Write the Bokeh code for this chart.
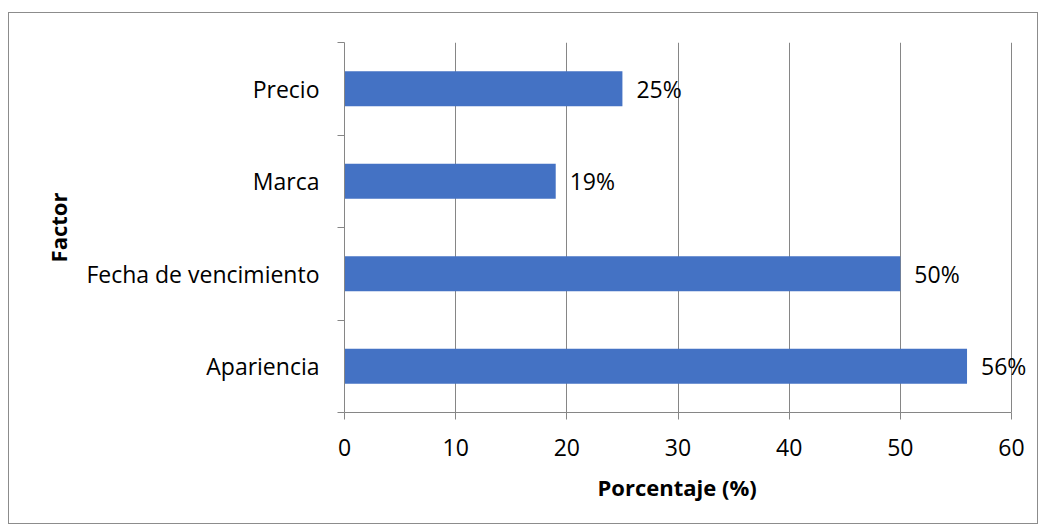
from bokeh.plotting import figure
from bokeh.models import Range1d, FixedTicker, ColumnDataSource, Title
from bokeh.core.properties import value
from bokeh.embed import file_html
from bokeh.resources import INLINE

factors = ["Apariencia", "Fecha de vencimiento", "Marca", "Precio"]
percent = [56, 50, 19, 25]
x_ticks = [0, 10, 20, 30, 40, 50, 60]
x_title = "Porcentaje (%)"
y_title = "Factor"

pos = [i + 1 for i in range(len(factors))]
src = ColumnDataSource(dict(y=pos, v=percent, lab=[f"{v}%" for v in percent]))

FONT = "Open Sans"
GRAY = "#868686"

# frame: 335 px left border; 667 px per 60 units; extra room on the right for the labels
LEFT = 335
PX_PER_UNIT = 667 / 60.0
W = 1030
RIGHT_PAD = 1
x_end = x_ticks[0] + (W - LEFT - RIGHT_PAD) / PX_PER_UNIT

p = figure(width=W, height=512,
           x_range=Range1d(x_ticks[0], x_end),
           y_range=Range1d(0.5, len(factors) + 0.5),
           output_backend="svg", toolbar_location=None,
           min_border_left=LEFT, min_border_right=RIGHT_PAD,
           min_border_top=29, min_border_bottom=113)
p.styles = {"margin-left": "8px", "margin-top": "12px", "border": "1px solid #8c8c8c"}
p.outline_line_color = None

p.hbar(y="y", right="v", left=0, height=0.38, source=src,
       fill_color="#4472C4", line_color=None)
p.text(x="v", y="y", text="lab", source=src, x_offset=14,
       text_baseline="middle", text_align="left",
       text_font=value(FONT), text_font_size="23px", text_color="#000000")

# x axis
xa = p.xaxis[0]
xa.ticker = FixedTicker(ticks=x_ticks)
xa.bounds = (x_ticks[0], x_ticks[-1])
xa.axis_line_color = GRAY
xa.major_tick_line_color = GRAY
xa.major_tick_out = 7
xa.major_tick_in = 0
xa.minor_tick_line_color = None
xa.major_label_text_font = FONT
xa.major_label_text_font_size = "23px"
xa.major_label_text_color = "#000000"
xa.major_label_standoff = 19

# x-axis title, centred under the 0-60 span
xt = Title(text=x_title, align="left", offset=253, standoff=23,
           text_font=FONT, text_font_size="22px", text_font_style="bold",
           text_color="#000000")
p.add_layout(xt, "below")

# y axis
ya = p.yaxis[0]
ya.ticker = FixedTicker(ticks=pos, minor_ticks=[i + 0.5 for i in range(len(factors) + 1)])
ya.major_label_overrides = {pp: f for pp, f in zip(pos, factors)}
ya.axis_line_color = GRAY
ya.major_tick_line_color = None
ya.major_tick_out = 0
ya.major_tick_in = 0
ya.minor_tick_line_color = GRAY
ya.minor_tick_out = 7
ya.minor_tick_in = 0
ya.major_label_text_font = FONT
ya.major_label_text_font_size = "23px"
ya.major_label_text_color = "#000000"
ya.major_label_standoff = 18
ya.axis_label = y_title
ya.axis_label_text_font = FONT
ya.axis_label_text_font_size = "22px"
ya.axis_label_text_font_style = "bold"
ya.axis_label_text_color = "#000000"
ya.axis_label_standoff = 10

p.ygrid.visible = False
p.xgrid.ticker = FixedTicker(ticks=x_ticks)
p.xgrid.grid_line_color = GRAY
p.xgrid.grid_line_width = 1

open("out.html", "w").write(file_html(p, INLINE))
